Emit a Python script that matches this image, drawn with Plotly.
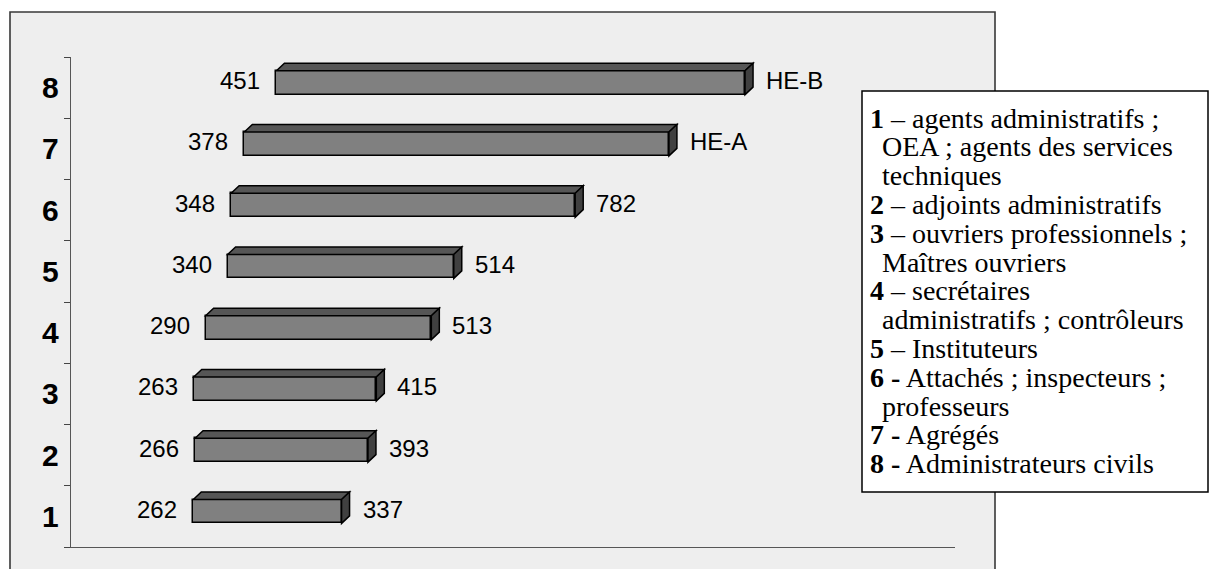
import plotly.graph_objects as go

W, H = 1213, 569

# ---- data ----
categories = [1, 2, 3, 4, 5, 6, 7, 8]
start_values = [262, 266, 263, 290, 340, 348, 378, 451]
bar_lengths = [337, 393, 415, 513, 514, 782, 965, 1065]   # stacked visible segment
end_labels = ["337", "393", "415", "513", "514", "782", "HE-A", "HE-B"]
legend_entries = [
    ("1 –", ["agents administratifs ;", "OEA ; agents des services", "techniques"]),
    ("2 –", ["adjoints administratifs"]),
    ("3 –", ["ouvriers professionnels ;", "Maîtres ouvriers"]),
    ("4 –", ["secrétaires", "administratifs ; contrôleurs"]),
    ("5 –", ["Instituteurs"]),
    ("6 -", ["Attachés ; inspecteurs ;", "professeurs"]),
    ("7 -", ["Agrégés"]),
    ("8 -", ["Administrateurs civils"]),
]


def fx(px):
    return px / W


def fy(py):
    return 1 - py / H


# axis geometry
x_px0, x_px1 = 71, 955
y_px0, y_px1 = 57, 547
x_zero_px, px_per_unit = 78, 0.44
x_range = [(x_px0 - x_zero_px) / px_per_unit, (x_px1 - x_zero_px) / px_per_unit]
band_px = (y_px1 - y_px0) / 8.0

bar_w = 0.39
y_off = 0.08
dx = 8 / px_per_unit
dy = 7.5 / band_px

SANS = "Liberation Sans, Arial, sans-serif"
SERIF = "Liberation Serif, Times New Roman, serif"

fig = go.Figure()

fig.add_trace(go.Bar(
    orientation="h",
    y=[c + y_off for c in categories],
    x=bar_lengths,
    base=start_values,
    width=bar_w,
    marker=dict(color="#808080", line=dict(color="black", width=1.5)),
    hoverinfo="skip",
    showlegend=False,
))

shapes = []
# outer frame
shapes.append(dict(type="rect", xref="paper", yref="paper",
                   x0=fx(10), x1=fx(995), y0=fy(585), y1=fy(12),
                   fillcolor="#eeeeee", line=dict(color="#383838", width=1.6),
                   layer="below"))

# 3D faces
for c, s, l in zip(categories, start_values, bar_lengths):
    e = s + l
    yc = c + y_off
    yt, yb = yc + bar_w / 2, yc - bar_w / 2
    top = f"M {s},{yt} L {s+dx},{yt+dy} L {e+dx},{yt+dy} L {e},{yt} Z"
    side = f"M {e},{yb} L {e},{yt} L {e+dx},{yt+dy} L {e+dx},{yb+dy} Z"
    shapes.append(dict(type="path", path=top, xref="x", yref="y",
                       fillcolor="#565656", line=dict(color="black", width=1.5)))
    shapes.append(dict(type="path", path=side, xref="x", yref="y",
                       fillcolor="#404040", line=dict(color="black", width=1.5)))

# legend box
shapes.append(dict(type="rect", xref="paper", yref="paper",
                   x0=fx(862), x1=fx(1208), y0=fy(492), y1=fy(91),
                   fillcolor="white", line=dict(color="black", width=1.5)))

annotations = []
lab_font = dict(family=SANS, size=24, color="black")
for c, s, l, el in zip(categories, start_values, bar_lengths, end_labels):
    yc = c + y_off
    annotations.append(dict(x=s, y=yc, xref="x", yref="y", text=str(s),
                            showarrow=False, xanchor="right", yanchor="middle",
                            xshift=-14, yshift=2, font=lab_font))
    annotations.append(dict(x=s + l, y=yc, xref="x", yref="y", text=el,
                            showarrow=False, xanchor="left", yanchor="middle",
                            xshift=19, yshift=2, font=lab_font))
    annotations.append(dict(x=fx(50), y=c, xref="paper", yref="y",
                            text=f"<b>{c}</b>", showarrow=False,
                            xanchor="center", yanchor="middle",
                            font=dict(family=SANS, size=30, color="black")))

leg_font = dict(family=SERIF, size=28, color="black")
line_i = 0
for num, lines in legend_entries:
    for j, txt in enumerate(lines):
        ypx = 118 + line_i * 28.8
        if j == 0:
            n, d = num.split(" ")
            if d == "-":
                t = f"<b>{n} -</b> {txt}"
            else:
                t = f"<b>{n}</b> {d} {txt}"
            x0 = 868
        else:
            t = txt
            x0 = 880
        annotations.append(dict(x=fx(x0), y=fy(ypx), xref="paper", yref="paper",
                                text=t, showarrow=False, xanchor="left",
                                yanchor="middle", font=leg_font))
        line_i += 1

fig.update_layout(
    width=W, height=H, autosize=False,
    margin=dict(l=0, r=0, t=0, b=0),
    paper_bgcolor="white", plot_bgcolor="rgba(0,0,0,0)",
    shapes=shapes, annotations=annotations,
    bargap=0,
    xaxis=dict(domain=[fx(x_px0), fx(x_px1)], range=x_range, showgrid=False,
               zeroline=False, showticklabels=False, ticks="",
               showline=True, linecolor="#555555", linewidth=1.2, fixedrange=True),
    yaxis=dict(domain=[fy(y_px1), fy(y_px0)], range=[0.5, 8.5], showgrid=False,
               zeroline=False, showticklabels=False,
               tickmode="array", tickvals=[i + 0.5 for i in range(0, 9)],
               ticks="outside", ticklen=6, tickcolor="#444444", tickwidth=1.2,
               showline=True, linecolor="#555555", linewidth=1.2, fixedrange=True),
)

fig.write_html("out.html")
